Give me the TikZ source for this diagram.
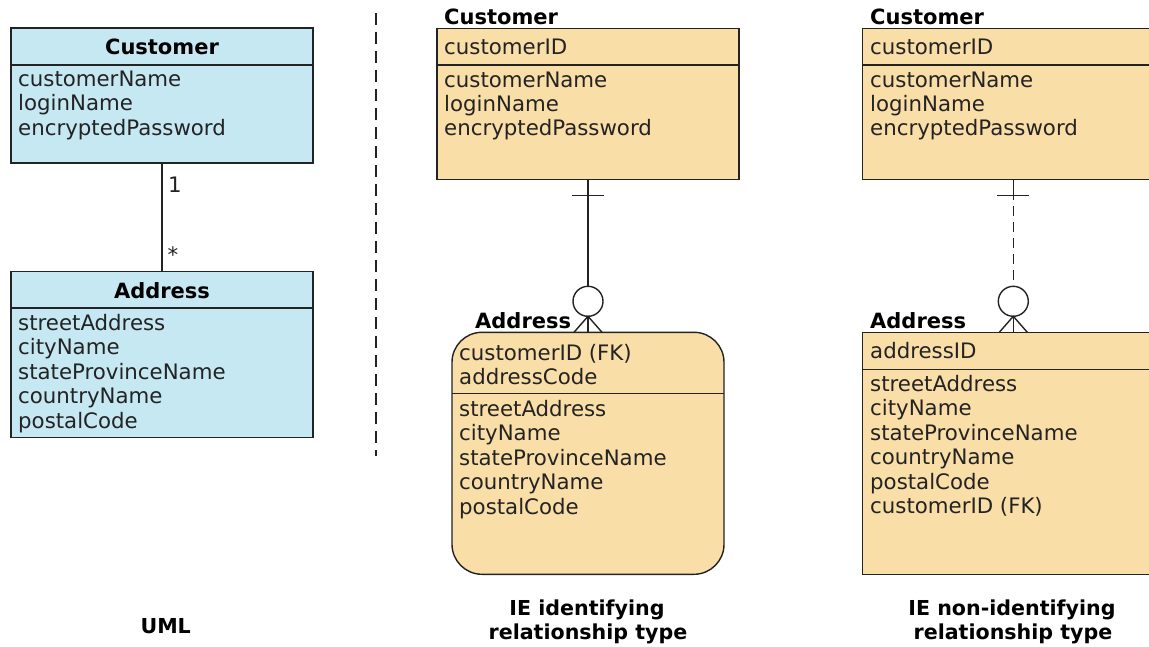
\documentclass[tikz,border=0pt]{standalone}
\usepackage{fontspec}
\setmainfont{DejaVu Sans}
\definecolor{umlfill}{RGB}{197,232,242}
\definecolor{iefill}{RGB}{249,222,168}
\definecolor{ink}{RGB}{35,35,35}
\begin{document}
\begin{tikzpicture}[x=1pt,y=-1pt,
  box/.style={draw=ink, line width=1.4pt, inner sep=0pt, outer sep=0pt, anchor=north west},
  conn/.style={draw=ink, line width=1.4pt},
  attr/.style={anchor=base west, inner sep=0pt, font=\fontsize{21.3}{24}\selectfont, text=ink},
  ttl/.style={anchor=base, inner sep=0pt, font=\fontsize{21}{24}\selectfont\bfseries, text=black},
  ttlw/.style={anchor=base west, inner sep=0pt, font=\fontsize{21}{24}\selectfont\bfseries, text=black},
  captext/.style={anchor=base, inner sep=0pt, font=\fontsize{20.6}{24}\selectfont\bfseries, text=black}]
\useasboundingbox (0,0) rectangle (1149,647);
\clip (0,0) rectangle (1149,647);

% ---------- UML ----------
\node[box, fill=umlfill, minimum width=302pt, minimum height=135pt] (uc) at (11,28) {};
\draw[conn] ([yshift=-37pt]uc.north west) -- ([yshift=-37pt]uc.north east);
\node[ttl] (uct) at (162,55) {Customer};
\foreach \t [count=\i] in {customerName,loginName,encryptedPassword}
  \node[attr] (uca\i) at (18,{86.5+24.3*(\i-1)}) {\t};

\node[box, fill=umlfill, minimum width=302pt, minimum height=166pt] (ua) at (11,271.5) {};
\draw[conn] ([yshift=-36.5pt]ua.north west) -- ([yshift=-36.5pt]ua.north east);
\node[ttl] (uat) at (162,298.3) {Address};
\foreach \t [count=\i] in {streetAddress,cityName,stateProvinceName,countryName,postalCode}
  \node[attr] (uaa\i) at (18,{330+24.55*(\i-1)}) {\t};

\draw[conn] (uc.south) -- (ua.north);
\node[attr] (mone) at (168,193) {1};
\node[attr] (mmany) at (167.5,263) {*};

% separator
\coordinate (sepa) at (376,13);
\coordinate (sepb) at (376,456);
\draw[draw=ink, line width=1.5pt, dash pattern=on 12pt off 7pt] (sepa) -- (sepb);

% ---------- IE identifying ----------
\node[ttlw] (ict) at (444,25) {Customer};
\node[box, fill=iefill, minimum width=302pt, minimum height=151pt] (ic) at (437,28.5) {};
\draw[conn] ([yshift=-36.5pt]ic.north west) -- ([yshift=-36.5pt]ic.north east);
\node[attr] (icid) at (444,55) {customerID};
\foreach \t [count=\i] in {customerName,loginName,encryptedPassword}
  \node[attr] (ica\i) at (444,{87.3+24.2*(\i-1)}) {\t};

\node[ttlw] (iat) at (475,328.3) {Address};
\node[box, fill=iefill, rounded corners=30pt, minimum width=272pt, minimum height=242pt] (ia) at (452,332.3) {};
\draw[conn] ([yshift=-61pt]ia.north west) -- ([yshift=-61pt]ia.north east);
\foreach \t [count=\i] in {customerID (FK),addressCode}
  \node[attr] (iak\i) at (459,{360.7+24*(\i-1)}) {\t};
\foreach \t [count=\i] in {streetAddress,cityName,stateProvinceName,countryName,postalCode}
  \node[attr] (iaa\i) at (459,{416+24.5*(\i-1)}) {\t};

\draw[conn] (ic.south) -- (ia.north);
\draw[conn] ([yshift=-16pt,xshift=-16pt]ic.south) -- ([yshift=-16pt,xshift=16pt]ic.south);
\draw[conn, fill=white] ([yshift=31pt]ia.north) circle (15pt);
\draw[conn] ([xshift=-14pt]ia.north) -- ([yshift=16pt]ia.north) -- ([xshift=14pt]ia.north);
\draw[conn] ([yshift=16pt]ia.north) -- (ia.north);

% ---------- IE non-identifying ----------
\node[ttlw] (nct) at (870,25) {Customer};
\node[box, fill=iefill, minimum width=302pt, minimum height=151pt] (nc) at (862.3,28.5) {};
\draw[conn] ([yshift=-36.5pt]nc.north west) -- ([yshift=-36.5pt]nc.north east);
\node[attr] (ncid) at (870,55) {customerID};
\foreach \t [count=\i] in {customerName,loginName,encryptedPassword}
  \node[attr] (nca\i) at (870,{87.3+24.2*(\i-1)}) {\t};

\node[ttlw] (nat) at (870,328.3) {Address};
\node[box, fill=iefill, minimum width=302pt, minimum height=242pt] (na) at (862.3,332.3) {};
\draw[conn] ([yshift=-37pt]na.north west) -- ([yshift=-37pt]na.north east);
\node[attr] (nak) at (870,358.3) {addressID};
\foreach \t [count=\i] in {streetAddress,cityName,stateProvinceName,countryName,postalCode,customerID (FK)}
  \node[attr] (naa\i) at (870,{391+24.5*(\i-1)}) {\t};

\draw[conn, dash pattern=on 21pt off 6pt on 10pt off 6pt on 10pt off 6pt on 10pt off 6pt on 10pt off 6pt on 10pt off 6pt on 10pt off 6pt] (nc.south) -- ([yshift=46pt]na.north);
\draw[conn] ([yshift=-16pt,xshift=-16pt]nc.south) -- ([yshift=-16pt,xshift=16pt]nc.south);
\draw[conn, fill=white] ([yshift=31pt]na.north) circle (15pt);
\draw[conn] ([xshift=-14pt]na.north) -- ([yshift=16pt]na.north) -- ([xshift=14pt]na.north);
\draw[conn] ([yshift=16pt]na.north) -- (na.north);

% ---------- captions ----------
\node[captext] (capu) at (165.7,633.3) {UML};
\node[captext] (capi1) at (587,615.7) {IE identifying};
\node[captext] (capi2) at (588,639.3) {relationship type};
\node[captext] (capn1) at (1012,615.7) {IE non-identifying};
\node[captext] (capn2) at (1013,639.3) {relationship type};
\end{tikzpicture}
\end{document}
